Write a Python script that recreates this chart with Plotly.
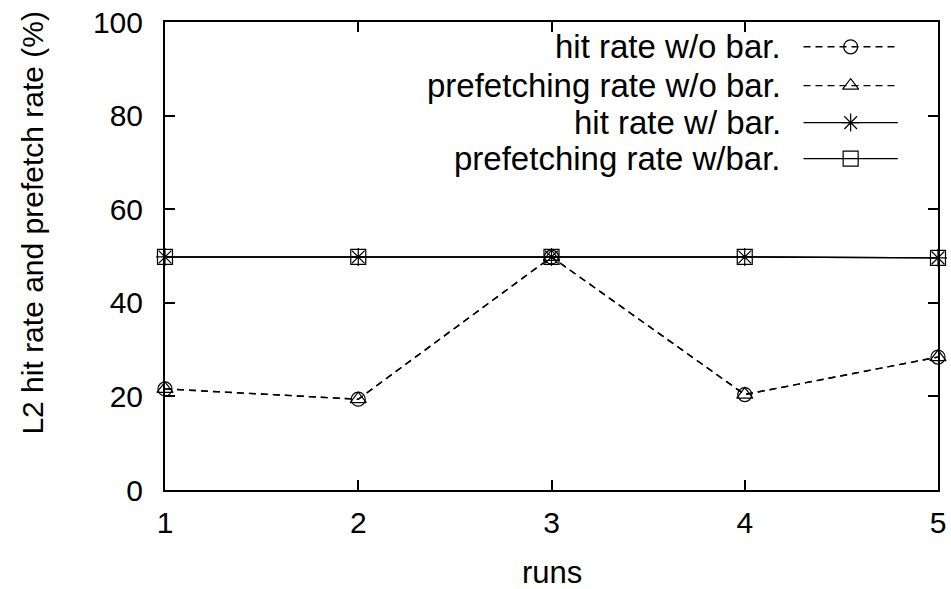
import plotly.graph_objects as go

runs = [1, 2, 3, 4, 5]
hit_wo_bar = [21.6, 19.4, 49.8, 20.4, 28.4]
prefetch_wo_bar = [21.6, 19.4, 49.8, 20.4, 28.4]
hit_w_bar = [49.8, 49.8, 49.8, 49.8, 49.6]
prefetch_w_bar = [49.8, 49.8, 49.8, 49.8, 49.6]

series_names = [
    "hit rate w/o bar.",
    "prefetching rate w/o bar.",
    "hit rate w/ bar.",
    "prefetching rate w/bar.",
]
series_values = [hit_wo_bar, prefetch_wo_bar, hit_w_bar, prefetch_w_bar]
series_dash = ["7px,5px", "7px,5px", "solid", "solid"]
series_symbol = ["circle-open", "triangle-up-open", "asterisk-open", "square-open"]
series_msize = [14, 14, 15, 15]

FONT = "Liberation Sans, Arial, sans-serif"
FS = 30

fig = go.Figure()

for name, vals, dash, sym, ms in zip(series_names, series_values,
                                     series_dash, series_symbol, series_msize):
    fig.add_trace(go.Scatter(
        x=runs, y=vals, mode="lines+markers", name=name,
        line=dict(color="black", width=1.4, dash=dash),
        marker=dict(symbol=sym, size=ms, color="black",
                    line=dict(color="black", width=1.2)),
        showlegend=False, cliponaxis=False,
    ))

# key drawn in the top-right corner: right-aligned labels with line samples
key_rows = [0.947, 0.864, 0.785, 0.708]
for name, dash, sym, ms, ky in zip(series_names, series_dash,
                                   series_symbol, series_msize, key_rows):
    fig.add_trace(go.Scatter(
        x=[0.826, 0.948], y=[ky, ky], mode="lines",
        line=dict(color="black", width=1.4, dash=dash),
        xaxis="x2", yaxis="y2", showlegend=False, hoverinfo="skip",
    ))
    fig.add_trace(go.Scatter(
        x=[0.887], y=[ky], mode="markers",
        marker=dict(symbol=sym, size=ms, color="black",
                    line=dict(color="black", width=1.2)),
        xaxis="x2", yaxis="y2", showlegend=False, hoverinfo="skip",
    ))
    fig.add_annotation(
        x=0.7995, y=ky, xref="x2", yref="y2", text=name, showarrow=False,
        xanchor="right", yanchor="middle",
        font=dict(family=FONT, size=33, color="black"),
    )

# axis captions as free text
fig.add_annotation(
    x=-0.171, y=0.571, xref="paper", yref="paper",
    text="L2 hit rate and prefetch rate (%)", showarrow=False,
    textangle=-90, xanchor="center", yanchor="middle",
    font=dict(family=FONT, size=FS, color="black"),
)
fig.add_annotation(
    x=0.5, y=-0.176, xref="paper", yref="paper",
    text="runs", showarrow=False, xanchor="center", yanchor="middle",
    borderpad=0, font=dict(family=FONT, size=31, color="black"),
)

axis_common = dict(
    showline=True, linecolor="black", linewidth=2, mirror="ticks",
    ticks="inside", ticklen=10, tickwidth=2, tickcolor="black",
    showgrid=False, zeroline=False, automargin=False,
    tickfont=dict(family=FONT, size=FS, color="black"),
)

fig.update_layout(
    width=951, height=589,
    margin=dict(l=165, r=13, t=22, b=99),
    plot_bgcolor="white", paper_bgcolor="white",
    font=dict(family=FONT, size=FS, color="black"),
    xaxis=dict(range=[1, 5], tickvals=runs, ticklabelstandoff=5,
               **axis_common),
    yaxis=dict(range=[0, 100], tickvals=[0, 20, 40, 60, 80, 100],
               ticklabelstandoff=14, **axis_common),
    xaxis2=dict(overlaying="x", range=[0, 1], visible=False),
    yaxis2=dict(overlaying="y", range=[0, 1], visible=False),
)

fig.write_html("out.html")
